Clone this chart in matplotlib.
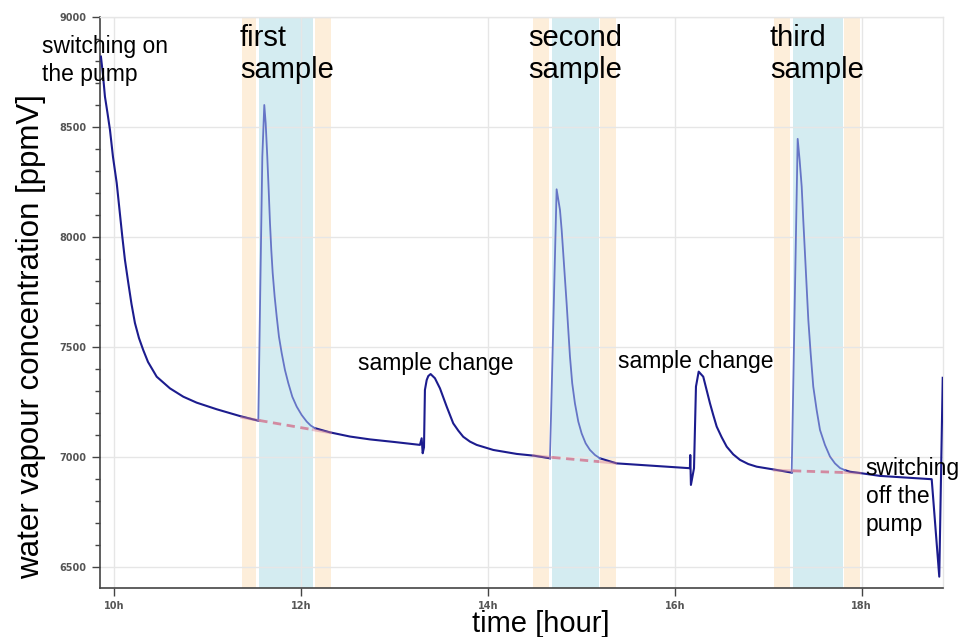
import numpy as np
import matplotlib
matplotlib.use("Agg")
import matplotlib.pyplot as plt
from matplotlib.ticker import FixedLocator, MultipleLocator

# ---------------- data ----------------
time_h = [9.855, 9.877, 9.898, 9.925, 9.952, 9.984, 10.024, 10.054, 10.084, 10.112,
          10.148, 10.182, 10.219, 10.262, 10.308, 10.359, 10.452, 10.594, 10.737,
          10.880, 11.094, 11.344, 11.540,
          11.561, 11.583, 11.604, 11.619, 11.636, 11.651, 11.665, 11.679, 11.694,
          11.715, 11.737, 11.761, 11.790, 11.825, 11.861, 11.904, 11.951, 12.004,
          12.058, 12.101, 12.147,
          12.307, 12.521, 12.735, 13.000, 13.271, 13.289, 13.300, 13.314, 13.324,
          13.343, 13.360, 13.385, 13.431, 13.485, 13.557, 13.592, 13.627, 13.681,
          13.734, 13.806, 13.878, 14.056, 14.306, 14.491, 14.663,
          14.734, 14.770, 14.788, 14.805, 14.823, 14.841, 14.859, 14.877, 14.901,
          14.930, 14.966, 15.002, 15.045, 15.091, 15.145, 15.198,
          15.377, 15.626, 15.900, 16.161, 16.165, 16.172, 16.205, 16.226, 16.255,
          16.304, 16.340, 16.376, 16.411, 16.448, 16.501, 16.555, 16.625, 16.697,
          16.786, 16.876, 17.090, 17.251,
          17.315, 17.336, 17.358, 17.375, 17.393, 17.411, 17.429, 17.454, 17.482,
          17.518, 17.554, 17.607, 17.661, 17.714, 17.768, 17.822,
          17.875, 17.983, 18.197, 18.411, 18.750, 18.831, 18.868]
vapour_ppmv = [8820, 8736, 8638, 8564, 8486, 8364, 8245, 8123, 8001, 7896,
               7791, 7696, 7609, 7541, 7486, 7432, 7365, 7312, 7274,
               7247, 7217, 7186, 7165,
               7759, 8365, 8600, 8517, 8365, 8214, 8064, 7941, 7836,
               7729, 7638, 7547, 7473, 7396, 7336, 7274, 7229, 7191,
               7161, 7143, 7131,
               7112, 7093, 7080, 7068, 7055, 7085, 7017, 7044, 7305,
               7350, 7368, 7377, 7358, 7312, 7229, 7191, 7153, 7120,
               7092, 7070, 7055, 7032, 7014, 7006, 6994,
               8217, 8123, 8032, 7926, 7812, 7699, 7577, 7456, 7335,
               7244, 7161, 7107, 7062, 7032, 7009, 6994,
               6971, 6964, 6956, 6949, 7009, 6873, 6949, 7320, 7388,
               7365, 7305, 7244, 7191, 7138, 7090, 7047, 7012, 6987,
               6968, 6956, 6941, 6929,
               8446, 8350, 8229, 8077, 7926, 7774, 7623, 7471, 7320,
               7214, 7123, 7055, 7002, 6971, 6950, 6940,
               6933, 6927, 6914, 6908, 6899, 6456, 7360]

# sample periods: orange = before/after, blue = sample measurement
pre_start = [11.362, 14.484, 17.064]
pre_end = [11.515, 14.655, 17.232]
sample_start = [11.550, 14.687, 17.264]
sample_end = [12.128, 15.187, 17.797]
post_start = [12.147, 15.198, 17.811]
post_end = [12.315, 15.366, 17.983]
# linear baseline at pre_start / post_end
baseline_start = [7180, 7006, 6940]
baseline_end = [7110, 6972, 6927]

sample_labels = ["first\nsample", "second\nsample", "third\nsample"]
xtick_vals = [10, 12, 14, 16, 18]
xtick_labels = ["10h", "12h", "14h", "16h", "18h"]
ytick_vals = [6500, 7000, 7500, 8000, 8500, 9000]

# ---------------- styling ----------------
FONT = "Liberation Sans"
NAVY = "#1c1c8e"
LIGHT = "#6675c6"
PINK = "#d27f98"
ORANGE = "#fdeeda"
BLUE = "#d4ecf1"

fig = plt.figure(figsize=(9.6, 6.37), dpi=100)
ax = fig.add_axes([100 / 960, 1 - 588 / 637, 843 / 960, 571 / 637])

t = np.array(time_h)
v = np.array(vapour_ppmv, dtype=float)

for a, b in zip(pre_start, pre_end):
    ax.axvspan(a, b, color=ORANGE, lw=0, zorder=0.1)
for a, b in zip(post_start, post_end):
    ax.axvspan(a, b, color=ORANGE, lw=0, zorder=0.1)
for a, b in zip(sample_start, sample_end):
    ax.axvspan(a, b, color=BLUE, lw=0, zorder=0.1)

# dark curve outside the sample periods, light curve inside
inside = np.zeros(len(t), dtype=bool)
for a, b in zip(sample_start, sample_end):
    inside |= (t > a) & (t < b)
v_dark = np.where(inside, np.nan, v)
ax.plot(t, v_dark, color=NAVY, lw=1.5, zorder=3, solid_joinstyle="round")
for a, b in zip(sample_start, sample_end):
    idx = np.where((t > a) & (t < b))[0]
    idx = np.arange(idx[0] - 1, idx[-1] + 2)
    ax.plot(t[idx], v[idx], color=LIGHT, lw=1.3, zorder=3, solid_joinstyle="round")

# baselines
for ps, pe, ss, se, bs, be in zip(pre_start, post_end, sample_start, sample_end,
                                  baseline_start, baseline_end):
    tb = [ps, pe]
    vb = [bs, be]
    ax.plot([ps, ss], np.interp([ps, ss], tb, vb), color=PINK, lw=2, alpha=0.45, zorder=4)
    ax.plot([ss, se], np.interp([ss, se], tb, vb), color=PINK, lw=2, alpha=0.9,
            dashes=(3, 2), zorder=4)
    ax.plot([se, pe], np.interp([se, pe], tb, vb), color=PINK, lw=2, alpha=0.45, zorder=4)

# axes
ax.set_xlim(9.845, 18.871)
ax.set_ylim(6404.5, 9000)
ax.set_axisbelow(True)
ax.grid(True, which="major", color="#e6e6e6", lw=1)
ax.xaxis.set_major_locator(FixedLocator(xtick_vals))
ax.set_xticklabels(xtick_labels)
ax.yaxis.set_major_locator(FixedLocator(ytick_vals))
ax.yaxis.set_minor_locator(MultipleLocator(100))
ax.tick_params(axis="both", which="major", length=6, width=1, color="#444444",
               labelsize=7, labelcolor="#555555", direction="out")
ax.tick_params(axis="y", which="minor", length=3.5, width=1, color="#444444")
for lab in ax.get_xticklabels() + ax.get_yticklabels():
    lab.set_fontweight("bold")
for s in ["left", "bottom"]:
    ax.spines[s].set_color("#444444")
    ax.spines[s].set_linewidth(1.2)
for s in ["top", "right"]:
    ax.spines[s].set_color("#e6e6e6")
    ax.spines[s].set_linewidth(1)

fig.text(31 / 960, 1 - 337 / 637, "water vapour concentration [ppmV]", rotation=90,
         ha="center", va="center", fontsize=22.5, family=FONT)
fig.text(541 / 960, 1 - 624 / 637, "time [hour]", ha="center", va="center",
         fontsize=21, family=FONT)

# annotations
ax.text(9.224, 8918, "switching on\nthe pump", fontsize=16.5, family=FONT,
        ha="left", va="top", linespacing=1.25)
for x0, lab in zip([11.344, 14.427, 17.018], sample_labels):
    ax.text(x0, 8968, lab, fontsize=21, family=FONT, ha="left", va="top",
            linespacing=1.2)
ax.text(12.607, 7396, "sample change", fontsize=16.5, family=FONT, ha="left", va="baseline")
ax.text(15.391, 7405, "sample change", fontsize=16.5, family=FONT, ha="left", va="baseline")
ax.text(18.045, 7002, "switching\noff the\npump", fontsize=16.5, family=FONT,
        ha="left", va="top", linespacing=1.29)

fig.savefig("out.png", dpi=100)
